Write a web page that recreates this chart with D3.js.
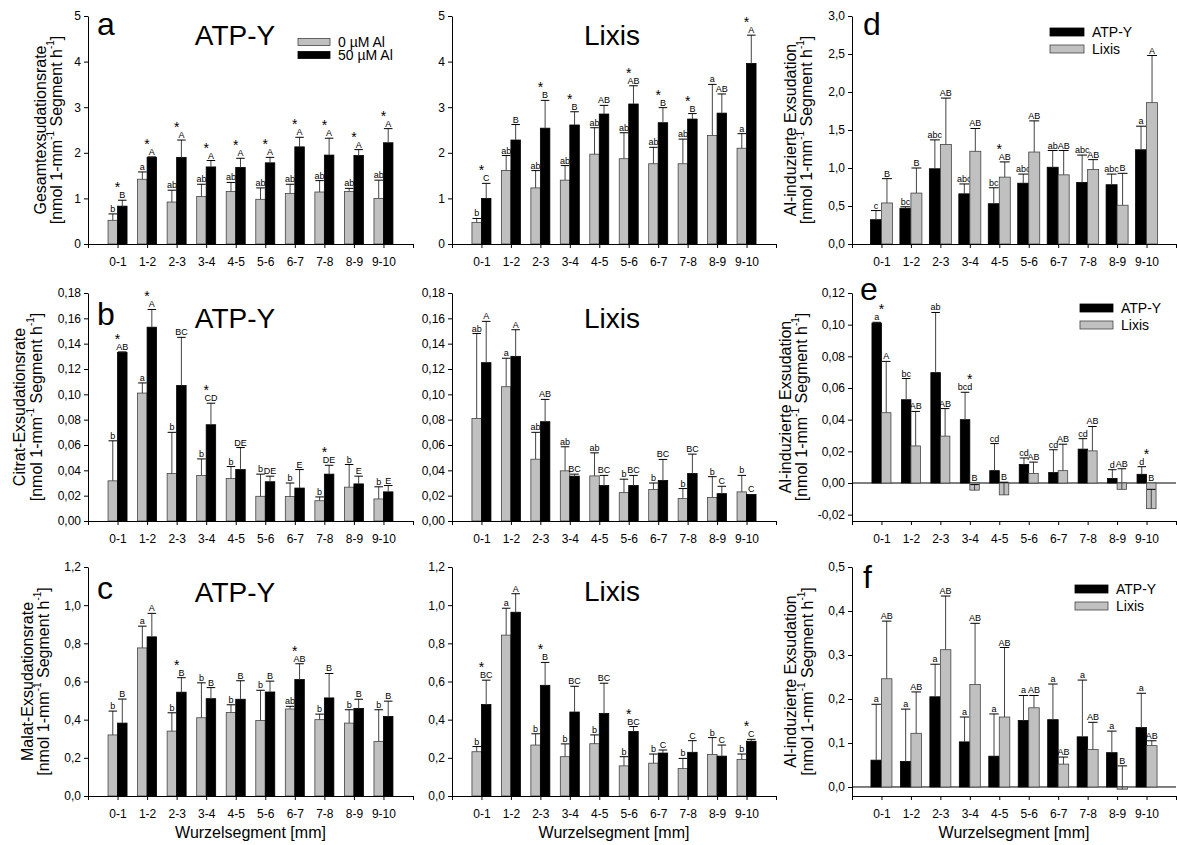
<!DOCTYPE html>
<html><head><meta charset="utf-8">
<script src="https://cdn.jsdelivr.net/npm/d3@7"></script>
<style>
body{margin:0;background:#fff;}
svg text{font-family: Arial, "Liberation Sans", sans-serif; fill:#000;}
</style></head><body>
<svg id="chart" width="1177" height="845"></svg>
<script>
// ---------------- DATA ----------------
const segments = ["0-1","1-2","2-3","3-4","4-5","5-6","6-7","7-8","8-9","9-10"];

// Panel a: total exudation rate, ATP-Y
const totATP_0 = [0.52,1.42,0.92,1.04,1.15,0.98,1.11,1.14,1.15,1.00];
const totATP_0_se = [0.14,0.16,0.26,0.27,0.20,0.25,0.20,0.25,0.07,0.40];
const totATP_0_sig = ["b","a","ab","ab","ab","ab","ab","ab","ab","ab"];
const totATP_50 = [0.83,1.90,1.90,1.69,1.68,1.78,2.13,1.95,1.94,2.22];
const totATP_50_se = [0.13,0.01,0.38,0.14,0.20,0.12,0.21,0.37,0.13,0.31];
const totATP_50_sig = ["B","A","A","A","A","A","A","A","A","A"];
const totATP_star = [1,1,1,1,1,1,1,1,1,1];
// Panel a: total exudation rate, Lixis
const totLix_0 = [0.47,1.61,1.23,1.40,1.97,1.87,1.76,1.76,2.38,2.10];
const totLix_0_se = [0.09,0.33,0.38,0.32,0.58,0.57,0.36,0.54,1.12,0.32];
const totLix_0_sig = ["b","ab","ab","ab","ab","ab","ab","ab","a","a"];
const totLix_50 = [1.00,2.28,2.54,2.61,2.85,3.07,2.66,2.74,2.87,3.96];
const totLix_50_se = [0.33,0.34,0.61,0.29,0.19,0.40,0.33,0.12,0.42,0.62];
const totLix_50_sig = ["C","B","B","B","AB","AB","B","B","AB","A"];
const totLix_star = [1,0,1,1,0,1,1,1,0,1];
// Panel d: Al-induced total exudation
const alTotATP = [0.32,0.47,0.99,0.66,0.53,0.80,1.01,0.81,0.78,1.24];
const alTotATP_se = [0.12,0.02,0.38,0.13,0.21,0.12,0.22,0.36,0.14,0.31];
const alTotATP_sig = ["c","bc","abc","abc","bc","abc","ab","abc","abc","a"];
const alTotLix = [0.54,0.67,1.31,1.22,0.88,1.21,0.91,0.98,0.51,1.86];
const alTotLix_se = [0.32,0.33,0.61,0.30,0.20,0.41,0.32,0.13,0.42,0.62];
const alTotLix_sig = ["B","B","AB","AB","AB","AB","AB","AB","B","A"];
const alTot_star = [0,0,0,0,1,0,0,0,0,0];

// Panel b: citrate, ATP-Y
const citATP_0 = [0.0317,0.101,0.0375,0.036,0.0335,0.0195,0.0193,0.016,0.0267,0.0174];
const citATP_0_se = [0.0316,0.008,0.0325,0.013,0.0095,0.0175,0.0107,0.003,0.0179,0.0096];
const citATP_0_sig = ["b","a","b","b","b","b","b","b","b","b"];
const citATP_50 = [0.133,0.153,0.107,0.076,0.0406,0.031,0.026,0.037,0.0293,0.023];
const citATP_50_se = [0.0005,0.014,0.038,0.017,0.0174,0.0044,0.0146,0.007,0.0061,0.005];
const citATP_50_sig = ["AB","A","BC","CD","DE","DE","E","DE","E","E"];
const citATP_star = [1,1,0,1,0,0,0,1,0,0];
// Panel b: citrate, Lixis
const citLix_0 = [0.081,0.106,0.0488,0.0396,0.0356,0.0224,0.0248,0.0177,0.0185,0.023];
const citLix_0_se = [0.067,0.0225,0.0212,0.019,0.0182,0.0106,0.0052,0.0079,0.0165,0.013];
const citLix_0_sig = ["ab","a","ab","ab","ab","b","b","b","b","b"];
const citLix_50 = [0.125,0.130,0.0784,0.0354,0.028,0.028,0.032,0.0375,0.0216,0.021];
const citLix_50_se = [0.0326,0.021,0.0176,0.0016,0.008,0.008,0.0166,0.0153,0.0058,0];
const citLix_50_sig = ["A","A","AB","BC","BC","BC","BC","BC","C","C"];
const citLix_star = [0,0,0,0,0,0,0,0,0,0];
// Panel e: Al-induced citrate exudation
const alCitATP = [0.101,0.0526,0.0697,0.040,0.0078,0.0117,0.0066,0.0214,0.0029,0.0055];
const alCitATP_se = [0.0005,0.0134,0.038,0.0173,0.0171,0.0041,0.0144,0.0066,0.0055,0.0048];
const alCitATP_sig = ["a","bc","ab","bcd","cd","cd","cd","cd","d","d"];
const alCitLix = [0.0444,0.0234,0.0296,-0.0045,-0.0075,0.006,0.0078,0.0203,-0.004,-0.0162];
const alCitLix_se = [0.0324,0.0218,0.0174,0.0035,0.008,0.0072,0.0167,0.0154,0.013,0.0122];
const alCitLix_sig = ["A","AB","AB","B","B","AB","AB","AB","AB","B"];
const alCit_star = [1,0,0,1,0,0,0,0,0,1];

// Panel c: malate, ATP-Y
const malATP_0 = [0.32,0.776,0.34,0.41,0.438,0.396,0.456,0.40,0.382,0.285];
const malATP_0_se = [0.125,0.114,0.096,0.183,0.04,0.158,0.014,0.029,0.07,0.167];
const malATP_0_sig = ["b","a","b","b","b","b","ab","b","b","b"];
const malATP_50 = [0.382,0.834,0.544,0.51,0.507,0.545,0.61,0.514,0.459,0.417];
const malATP_50_se = [0.126,0.123,0.076,0.058,0.097,0.057,0.083,0.128,0.048,0.08];
const malATP_50_sig = ["B","A","B","B","B","B","AB","B","B","B"];
const malATP_star = [0,0,1,0,0,0,1,0,0,0];
// Panel c: malate, Lixis
const malLix_0 = [0.232,0.843,0.267,0.206,0.274,0.158,0.172,0.144,0.218,0.192];
const malLix_0_se = [0.027,0.141,0.059,0.067,0.046,0.048,0.048,0.053,0.088,0.028];
const malLix_0_sig = ["b","a","b","b","b","b","b","b","b","b"];
const malLix_50 = [0.479,0.963,0.58,0.44,0.433,0.338,0.225,0.229,0.209,0.287];
const malLix_50_se = [0.128,0.097,0.12,0.135,0.158,0.026,0.016,0.061,0.058,0.01];
const malLix_50_sig = ["BC","A","B","BC","BC","BC","C","C","C","C"];
const malLix_star = [1,0,1,0,0,1,0,0,0,1];
// Panel f: Al-induced malate exudation
const alMalATP = [0.061,0.058,0.205,0.1025,0.070,0.151,0.153,0.114,0.078,0.135];
const alMalATP_se = [0.127,0.119,0.074,0.0565,0.096,0.057,0.081,0.129,0.049,0.078];
const alMalATP_sig = ["a","a","a","a","a","a","a","a","a","a"];
const alMalLix = [0.246,0.122,0.312,0.233,0.159,0.18,0.052,0.085,-0.005,0.094];
const alMalLix_se = [0.131,0.094,0.122,0.139,0.158,0.028,0.016,0.062,0.053,0.011];
const alMalLix_sig = ["AB","AB","AB","AB","AB","AB","AB","AB","B","AB"];
const alMal_star = [0,0,0,0,0,0,0,0,0,0];

// Tick values
const ticksTot = [0,1,2,3,4,5];
const ticksAlTot = [0,0.5,1,1.5,2,2.5,3];
const ticksCit = [0,0.02,0.04,0.06,0.08,0.10,0.12,0.14,0.16,0.18];
const ticksAlCit = [-0.02,0,0.02,0.04,0.06,0.08,0.10,0.12];
const ticksMal = [0,0.2,0.4,0.6,0.8,1.0,1.2];
const ticksAlMal = [0,0.1,0.2,0.3,0.4,0.5];

// Texts
const legendAl = ["0 µM Al","50 µM Al"];
const legendCult = ["ATP-Y","Lixis"];
const yTitles = ["Gesamtexsudationsrate","Citrat-Exsudationsrate","Malat-Exsudationsrate","Al-induzierte Exsudation"];
const xTitle = "Wurzelsegment [mm]";

// ---------------- DRAW ----------------
const svg = d3.select("#chart");
const GRAY = "#c0c0c0", BLACK = "#000000";
const cols = [{x0:88,x1:413},{x0:452,x1:776},{x0:852,x1:1176}];
const rows = [{top:16,bot:244},{top:293,bot:521},{top:567,bot:796}];

function fmt(dec){ return v => v.toFixed(dec).replace(".", ","); }

function drawPanel(p){
  const c = cols[p.col], r = rows[p.row];
  const g = svg.append("g");
  const x = d3.scaleLinear().domain([0,11]).range([c.x0,c.x1]);
  const y = d3.scaleLinear().domain(p.dom).range([r.bot,r.top]);
  const bw = p.barW;

  if (p.zero){
    g.append("line").attr("x1",c.x0).attr("x2",c.x1).attr("y1",y(0)).attr("y2",y(0))
      .attr("stroke","#000").attr("stroke-width",1);
  }
  const labelY = [];
  p.series.forEach((s,si)=>{
    const off = si===0 ? -bw : 0;
    s.v.forEach((v,i)=>{
      const bx = x(i+1)+off, cx = bx+bw/2;
      const y0 = y(0), yv = y(v);
      g.append("rect").attr("x",bx).attr("y",Math.min(y0,yv)).attr("width",bw)
        .attr("height",Math.abs(yv-y0)).attr("fill",s.fill)
        .attr("stroke", s.fill===GRAY ? "#444" : "#000").attr("stroke-width",0.8);
      const top = v + s.se[i];
      if (s.se[i] > 0){
        g.append("line").attr("x1",cx).attr("x2",cx).attr("y1",yv).attr("y2",y(top))
          .attr("stroke","#444").attr("stroke-width",1);
        g.append("line").attr("x1",cx-bw*0.45).attr("x2",cx+bw*0.45).attr("y1",y(top)).attr("y2",y(top))
          .attr("stroke","#000").attr("stroke-width",1);
      }
      const ly = y(Math.max(top,0)) - 2;
      labelY[i] = Math.min(labelY[i] ?? 1e9, ly);
      g.append("text").attr("x",cx).attr("y",ly).attr("text-anchor","middle")
        .attr("font-size",9).attr("fill","#222").text(s.sig[i]);
    });
  });
  p.star.forEach((st,i)=>{
    if(!st) return;
    g.append("text").attr("x",x(i+1)).attr("y",labelY[i]-6).attr("text-anchor","middle")
      .attr("font-size",14).text("*");
  });

  // axes
  const ya = d3.axisLeft(y).tickValues(p.ticks).tickFormat(fmt(p.dec)).tickSize(4).tickSizeOuter(0);
  const yg = g.append("g").attr("transform",`translate(${c.x0},0)`).call(ya);
  const xa = d3.axisBottom(x).tickValues(d3.range(0,12)).tickFormat(i => (i>=1 && i<=10) ? segments[i-1] : "")
    .tickSize(4).tickSizeOuter(0);
  const xg = g.append("g").attr("transform",`translate(0,${r.bot})`).call(xa);
  [yg,xg].forEach(a=>{
    a.select(".domain").attr("stroke","#000").attr("stroke-width",1);
    a.selectAll(".tick line").attr("stroke","#000");
    a.selectAll("text").attr("font-size",12).attr("font-family","Arial, 'Liberation Sans', sans-serif").attr("fill","#000");
  });
  xg.selectAll("text").attr("dy",null).attr("y",22);

  // y title
  if (p.ytitle !== undefined){
    const cy = (r.top+r.bot)/2;
    const t1 = g.append("text").attr("transform",`translate(${p.ytx[0]},${cy}) rotate(-90)`)
      .attr("text-anchor","middle").attr("dominant-baseline","central").attr("font-size",16).text(p.ytitle);
    const t2 = g.append("text").attr("transform",`translate(${p.ytx[1]},${cy}) rotate(-90)`)
      .attr("text-anchor","middle").attr("dominant-baseline","central").attr("font-size",16);
    t2.append("tspan").text("[nmol 1-mm");
    t2.append("tspan").attr("baseline-shift","super").attr("font-size",10).text("-1");
    t2.append("tspan").text(" Segment h");
    t2.append("tspan").attr("baseline-shift","super").attr("font-size",10).text("-1");
    t2.append("tspan").text("]");
  }
  if (p.row===2){
    g.append("text").attr("x",(c.x0+c.x1)/2).attr("y",838).attr("text-anchor","middle")
      .attr("font-size",16).text(xTitle);
  }
  if (p.title){
    g.append("text").attr("x",p.title.x).attr("y",p.title.y).attr("text-anchor","middle")
      .attr("font-size",28).text(p.title.t);
  }
  if (p.letter){
    g.append("text").attr("x",p.letter.x).attr("y",p.letter.y).attr("font-size",32).text(p.letter.t);
  }
  if (p.legend){
    const L = p.legend;
    L.items.forEach((it,k)=>{
      const yc = L.y + k*L.dy;
      g.append("rect").attr("x",L.x).attr("y",yc-L.h/2).attr("width",L.w).attr("height",L.h)
        .attr("fill",it.fill).attr("stroke", it.fill===GRAY ? "#444" : "#000").attr("stroke-width",0.8);
      g.append("text").attr("x",L.x+L.w+8).attr("y",yc+5).attr("font-size",14).text(it.t);
    });
  }
}

const alLegend = [{fill:GRAY,t:legendAl[0]},{fill:BLACK,t:legendAl[1]}];
const cultLegend = [{fill:BLACK,t:legendCult[0]},{fill:GRAY,t:legendCult[1]}];

const panels = [
  {row:0,col:0,dom:[0,5],ticks:ticksTot,dec:0,barW:9.5,ytitle:yTitles[0],ytx:[40,56],
   series:[{v:totATP_0,se:totATP_0_se,sig:totATP_0_sig,fill:GRAY},{v:totATP_50,se:totATP_50_se,sig:totATP_50_sig,fill:BLACK}],
   star:totATP_star,title:{t:"ATP-Y",x:235,y:45},letter:{t:"a",x:97,y:35},
   legend:{x:298,y:42,dy:13,w:32,h:7,items:alLegend}},
  {row:0,col:1,dom:[0,5],ticks:ticksTot,dec:0,barW:9.5,
   series:[{v:totLix_0,se:totLix_0_se,sig:totLix_0_sig,fill:GRAY},{v:totLix_50,se:totLix_50_se,sig:totLix_50_sig,fill:BLACK}],
   star:totLix_star,title:{t:"Lixis",x:612,y:45}},
  {row:0,col:2,dom:[0,3],ticks:ticksAlTot,dec:1,barW:11,ytitle:yTitles[3],ytx:[790,806],
   series:[{v:alTotATP,se:alTotATP_se,sig:alTotATP_sig,fill:BLACK},{v:alTotLix,se:alTotLix_se,sig:alTotLix_sig,fill:GRAY}],
   star:alTot_star,letter:{t:"d",x:863,y:35},
   legend:{x:1050,y:32,dy:17,w:34,h:8,items:cultLegend}},

  {row:1,col:0,dom:[0,0.18],ticks:ticksCit,dec:2,barW:9.5,ytitle:yTitles[1],ytx:[19,36],
   series:[{v:citATP_0,se:citATP_0_se,sig:citATP_0_sig,fill:GRAY},{v:citATP_50,se:citATP_50_se,sig:citATP_50_sig,fill:BLACK}],
   star:citATP_star,title:{t:"ATP-Y",x:235,y:328},letter:{t:"b",x:97,y:325}},
  {row:1,col:1,dom:[0,0.18],ticks:ticksCit,dec:2,barW:9.5,
   series:[{v:citLix_0,se:citLix_0_se,sig:citLix_0_sig,fill:GRAY},{v:citLix_50,se:citLix_50_se,sig:citLix_50_sig,fill:BLACK}],
   star:citLix_star,title:{t:"Lixis",x:612,y:328}},
  {row:1,col:2,dom:[-0.024,0.12],ticks:ticksAlCit,dec:2,barW:9.5,zero:true,ytitle:yTitles[3],ytx:[785,801],
   series:[{v:alCitATP,se:alCitATP_se,sig:alCitATP_sig,fill:BLACK},{v:alCitLix,se:alCitLix_se,sig:alCitLix_sig,fill:GRAY}],
   star:alCit_star,letter:{t:"e",x:860,y:300},
   legend:{x:1080,y:308,dy:17,w:33,h:8,items:cultLegend}},

  {row:2,col:0,dom:[0,1.2],ticks:ticksMal,dec:1,barW:9.5,ytitle:yTitles[2],ytx:[27,43],
   series:[{v:malATP_0,se:malATP_0_se,sig:malATP_0_sig,fill:GRAY},{v:malATP_50,se:malATP_50_se,sig:malATP_50_sig,fill:BLACK}],
   star:malATP_star,title:{t:"ATP-Y",x:235,y:602},letter:{t:"c",x:97,y:599}},
  {row:2,col:1,dom:[0,1.2],ticks:ticksMal,dec:1,barW:9.5,
   series:[{v:malLix_0,se:malLix_0_se,sig:malLix_0_sig,fill:GRAY},{v:malLix_50,se:malLix_50_se,sig:malLix_50_sig,fill:BLACK}],
   star:malLix_star,title:{t:"Lixis",x:612,y:601}},
  {row:2,col:2,dom:[-0.0205,0.5],ticks:ticksAlMal,dec:1,barW:10.5,zero:true,ytitle:yTitles[3],ytx:[790,807],
   series:[{v:alMalATP,se:alMalATP_se,sig:alMalATP_sig,fill:BLACK},{v:alMalLix,se:alMalLix_se,sig:alMalLix_sig,fill:GRAY}],
   star:alMal_star,letter:{t:"f",x:863,y:588},
   legend:{x:1075,y:589,dy:17,w:33,h:8,items:cultLegend}}
];
panels.forEach(drawPanel);
</script>
</body></html>
